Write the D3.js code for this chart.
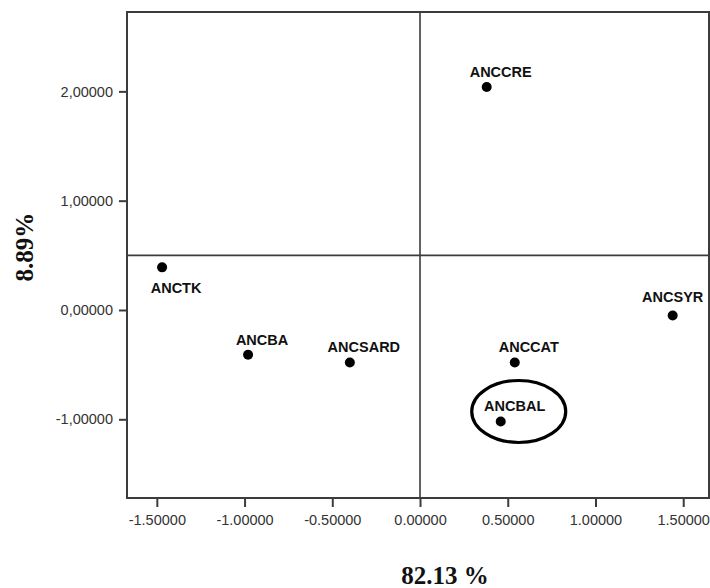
<!DOCTYPE html>
<html>
<head>
<meta charset="utf-8">
<script src="https://cdn.jsdelivr.net/npm/d3@7"></script>
<style>
  body { margin: 0; background: #fff; }
  svg { display: block; }
  .tick text { font-family: Arial, "Liberation Sans", sans-serif; font-size: 14.5px; fill: #333; }
  .pt-label { font-family: Arial, "Liberation Sans", sans-serif; font-size: 14.5px; font-weight: bold; fill: #111; }
  .ax-title { font-family: "Times New Roman", "Liberation Serif", serif; font-size: 25px; font-weight: bold; fill: #111; }
</style>
</head>
<body>
<div id="chart"></div>
<script>
// Correspondence-analysis style biplot: seven ancestry groups on dims 1 and 2.

const names = ["ANCCRE", "ANCTK", "ANCSYR", "ANCBA", "ANCSARD", "ANCCAT", "ANCBAL"];
const dim1 = [0.38, -1.47, 1.44, -0.98, -0.40, 0.54, 0.46];
const dim2 = [2.04, 0.39, -0.05, -0.41, -0.48, -0.48, -1.02];
// where each label sits relative to its point
const labelSide = ["above", "below", "top", "above", "above", "above", "above"];

const xTicks = [-1.5, -1.0, -0.5, 0.0, 0.5, 1.0, 1.5];
const yTicks = [-1, 0, 1, 2];
const xDomain = [-1.67, 1.647];
const yDomain = [-1.72, 2.726];
const refX = 0.0, refY = 0.5;          // quadrant lines
const circled = "ANCBAL";
const xTitle = "82.13 %", yTitle = "8.89%";

const W = 710, H = 588;
const m = { left: 127, right: 1, top: 12, bottom: 90 };

// plain hyphen for negatives, like the original export
const fmt = d3.formatLocale({ decimal: ".", thousands: ",", grouping: [3], currency: ["", ""], minus: "-" }).format(".5f");

const svg = d3.select("#chart").append("svg").attr("width", W).attr("height", H);

const x = d3.scaleLinear().domain(xDomain).range([m.left, W - m.right]);
const y = d3.scaleLinear().domain(yDomain).range([H - m.bottom, m.top]);

const stroke = "#3c3c3c";

// axes
const xAxis = svg.append("g")
  .attr("transform", `translate(0,${H - m.bottom})`)
  .call(d3.axisBottom(x).tickValues(xTicks).tickSize(9).tickPadding(6).tickFormat(fmt));
const yAxis = svg.append("g")
  .attr("transform", `translate(${m.left},0)`)
  .call(d3.axisLeft(y).tickValues(yTicks).tickSize(8).tickPadding(6)
    .tickFormat((d) => fmt(d).replace(".", ",")));
[xAxis, yAxis].forEach((g) => {
  g.select(".domain").remove();
  g.selectAll(".tick line").attr("stroke", stroke).attr("stroke-width", 2);
});
xAxis.selectAll(".tick text").attr("dy", "0.85em");

// frame
svg.append("rect")
  .attr("x", m.left).attr("y", m.top)
  .attr("width", W - m.right - m.left).attr("height", H - m.bottom - m.top)
  .attr("fill", "none").attr("stroke", stroke).attr("stroke-width", 2);

// quadrant lines
svg.append("line")
  .attr("x1", x(refX)).attr("x2", x(refX)).attr("y1", m.top).attr("y2", H - m.bottom)
  .attr("stroke", stroke).attr("stroke-width", 1.6);
svg.append("line")
  .attr("x1", m.left).attr("x2", W - m.right).attr("y1", y(refY)).attr("y2", y(refY))
  .attr("stroke", stroke).attr("stroke-width", 1.6);

// points and labels
const pts = names.map((n, i) => ({ name: n, x: dim1[i], y: dim2[i], side: labelSide[i] }));

svg.append("g").selectAll("circle").data(pts).join("circle")
  .attr("cx", (d) => x(d.x)).attr("cy", (d) => y(d.y)).attr("r", 5).attr("fill", "#000");

svg.append("g").selectAll("text").data(pts).join("text")
  .attr("class", "pt-label")
  .attr("text-anchor", "middle")
  .attr("x", (d) => x(d.x) + (d.side === "top" ? 0 : 14))
  .attr("y", (d) => y(d.y) + (d.side === "below" ? 26 : d.side === "top" ? -13 : -10))
  .text((d) => d.name);

// ellipse around the highlighted group
const c = pts.find((d) => d.name === circled);
svg.append("ellipse")
  .attr("cx", x(c.x) + 18).attr("cy", y(c.y) - 10)
  .attr("rx", 47).attr("ry", 31)
  .attr("fill", "none").attr("stroke", "#000").attr("stroke-width", 3.2);

// axis titles
svg.append("text").attr("class", "ax-title")
  .attr("x", 445).attr("y", 584).attr("text-anchor", "middle").text(xTitle);
svg.append("text").attr("class", "ax-title")
  .attr("transform", "translate(33,247) rotate(-90)")
  .attr("text-anchor", "middle").text(yTitle);
</script>
</body>
</html>
